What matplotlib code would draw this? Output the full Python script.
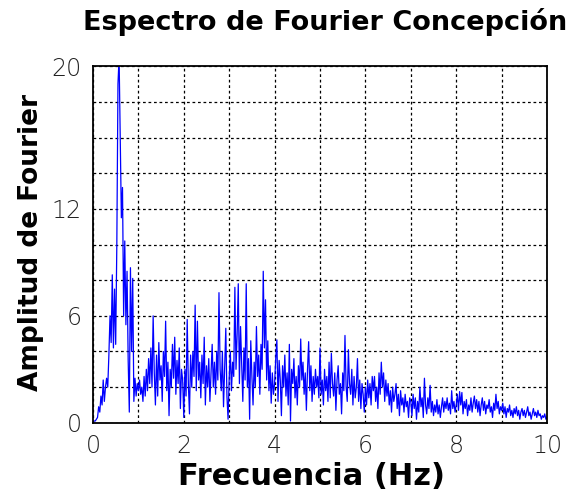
import numpy as np
import matplotlib
matplotlib.use("Agg")
import matplotlib.pyplot as plt
from matplotlib.ticker import MultipleLocator, FixedLocator

# Fourier amplitude, 0.025 Hz steps from 0 to 10 Hz
amp_0 = [0.05, 0.1, 0.1, 0.2, 0.3, 0.9, 0.6, 1.5, 1.0, 2.4,
         1.2, 2.0, 2.5, 2.0, 3.8, 6.0, 4.5, 8.3, 4.2, 7.5,
         4.4, 10.0, 19.0, 20.5, 16.0, 11.5, 13.2, 6.0, 10.2, 5.5,
         8.5, 3.5, 0.6, 8.7, 4.0, 8.1, 1.2, 2.5, 1.5, 2.2]
amp_1 = [1.8, 2.4, 1.6, 2.0, 1.2, 2.6, 1.5, 3.0, 1.8, 3.6,
         2.2, 4.2, 2.0, 6.0, 2.8, 1.0, 3.8, 1.5, 4.5, 2.4,
         3.2, 1.2, 4.0, 2.6, 5.7, 1.8, 3.4, 0.4, 3.0, 2.0,
         4.4, 2.5, 4.8, 1.6, 3.5, 2.2, 4.2, 0.8, 3.0, 2.4]
amp_2 = [0.3, 3.0, 1.5, 5.8, 2.2, 0.5, 3.8, 2.0, 4.0, 2.6,
         6.6, 1.8, 5.7, 2.4, 3.4, 1.4, 3.8, 2.2, 4.8, 1.0,
         3.2, 2.0, 3.6, 1.2, 2.8, 4.4, 2.0, 3.4, 1.6, 4.0,
         2.4, 7.3, 3.0, 1.8, 4.0, 0.9, 3.2, 5.3, 1.5, 0.2]
amp_3 = [2.5, 4.0, 1.8, 3.4, 2.6, 7.6, 3.0, 5.0, 7.8, 2.2,
         5.4, 3.2, 1.2, 4.2, 2.4, 7.8, 2.0, 3.6, 0.2, 4.6,
         2.6, 1.0, 3.4, 2.0, 5.4, 2.6, 3.8, 1.6, 4.4, 3.0,
         8.5, 4.2, 6.9, 2.4, 4.6, 1.8, 3.2, 1.1, 2.8, 1.6]
amp_4 = [2.2, 3.6, 4.65, 1.2, 3.5, 2.4, 0.4, 3.2, 2.0, 3.8,
         1.5, 2.8, 1.0, 4.4, 0.1, 3.0, 2.2, 3.6, 1.4, 2.6,
         1.0, 3.2, 2.0, 4.7, 2.4, 3.4, 1.6, 2.8, 0.7, 3.0,
         4.55, 1.8, 3.2, 1.2, 2.6, 1.6, 3.0, 2.0, 2.6, 1.4]
amp_5 = [4.2, 1.6, 2.4, 1.0, 3.0, 1.8, 2.6, 1.2, 3.4, 1.4,
         3.9, 2.2, 1.5, 2.8, 0.7, 2.4, 3.2, 1.6, 2.2, 0.5,
         2.8, 1.8, 4.9, 2.0, 1.2, 4.1, 2.2, 1.6, 3.0, 1.0,
         2.6, 1.4, 2.0, 3.6, 1.2, 2.4, 0.8, 2.2, 1.6, 0.6]
amp_6 = [2.0, 1.0, 2.4, 1.4, 2.2, 1.0, 2.6, 1.8, 2.6, 1.2,
         2.0, 0.8, 2.8, 1.6, 3.4, 2.0, 2.8, 1.2, 2.4, 1.5,
         2.2, 1.0, 1.8, 0.6, 2.0, 1.2, 1.6, 2.2, 0.8, 1.6,
         0.4, 1.8, 1.0, 1.4, 0.6, 1.6, 0.9, 1.2, 0.3, 1.4]
amp_7 = [1.2, 0.4, 1.6, 0.8, 1.4, 0.2, 1.2, 0.6, 2.0, 0.9,
         1.4, 0.3, 2.5, 1.0, 0.5, 1.4, 0.8, 2.1, 0.6, 1.2,
         0.4, 1.0, 0.6, 1.3, 0.5, 1.0, 0.3, 0.9, 1.4, 0.6,
         1.2, 0.8, 1.4, 0.7, 1.1, 0.5, 1.8, 0.8, 1.2, 0.6]
amp_8 = [1.0, 1.6, 0.7, 1.75, 1.0, 1.7, 0.5, 1.2, 0.8, 1.3,
         0.4, 1.0, 0.7, 1.4, 0.6, 1.1, 1.5, 0.8, 1.3, 0.6,
         1.2, 0.4, 1.0, 1.4, 0.7, 1.2, 0.5, 1.0, 0.8, 1.3,
         0.6, 0.9, 0.3, 1.1, 0.7, 1.6, 0.8, 1.2, 0.5, 0.9]
amp_9 = [0.7, 1.1, 0.5, 0.9, 0.3, 0.8, 0.6, 1.0, 0.4, 0.7,
         0.3, 0.8, 0.5, 0.9, 0.4, 0.7, 0.2, 0.6, 0.8, 0.4,
         0.7, 0.3, 0.6, 0.9, 0.4, 0.6, 0.2, 0.5, 0.8, 0.4,
         0.6, 0.3, 0.7, 0.4, 0.5, 0.2, 0.4, 0.3, 0.5, 0.2, 0.3]

amplitude = np.array(amp_0 + amp_1 + amp_2 + amp_3 + amp_4 +
                     amp_5 + amp_6 + amp_7 + amp_8 + amp_9)
freq = np.linspace(0.0, 10.0, len(amplitude))

x_ticks = [0, 2, 4, 6, 8, 10]
y_ticks = [0, 6, 12, 20]

fig = plt.figure(figsize=(5.74, 4.98), dpi=100)
ax = fig.add_axes([0.162, 0.151, 0.791, 0.716])

ax.plot(freq, amplitude, color="#0000FF", lw=0.9)

ax.set_xlim(0, 10)
ax.set_ylim(0, 20)
ax.xaxis.set_major_locator(FixedLocator(x_ticks))
ax.yaxis.set_major_locator(FixedLocator(y_ticks))
ax.xaxis.set_minor_locator(MultipleLocator(1))
ax.yaxis.set_minor_locator(MultipleLocator(2))
ax.grid(True, which="both", color="black", linestyle=(0, (2.2, 2.2)), lw=0.9)
ax.set_axisbelow(True)
ax.tick_params(which="both", length=0, pad=8, labelsize=17)
for lab in ax.get_xticklabels() + ax.get_yticklabels():
    lab.set_fontweight("ultralight")
    lab.set_color("#222222")
for s in ax.spines.values():
    s.set_linewidth(1.3)
    s.set_color("black")

fig.text(0.566, 0.956, "Espectro de Fourier Concepción", ha="center", va="center",
         fontsize=19.5, fontweight="bold")
fig.text(0.543, 0.044, "Frecuencia (Hz)", ha="center", va="center",
         fontsize=22, fontweight="bold")
fig.text(0.054, 0.514, "Amplitud de Fourier", ha="center", va="center",
         rotation=90, fontsize=19, fontweight="bold")

fig.savefig("out.png", dpi=100)
